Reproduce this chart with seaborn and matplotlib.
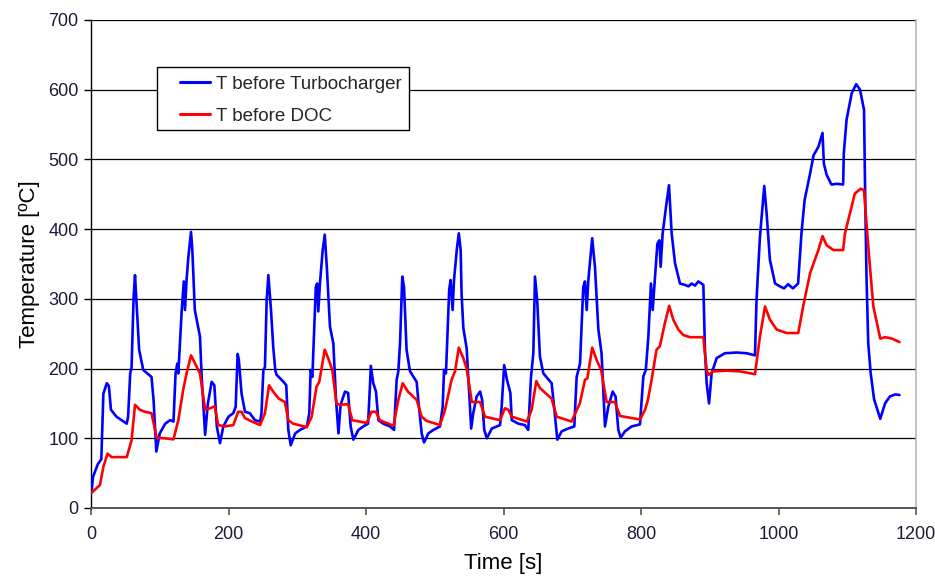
import numpy as np
import pandas as pd
import matplotlib
matplotlib.use("Agg")
import matplotlib.pyplot as plt
from matplotlib.patches import Rectangle
from matplotlib.lines import Line2D
import seaborn as sns

# ---------------- data ----------------
turbo_t = [1, 3, 10, 15, 18, 23, 26, 29, 37, 52, 54, 57, 59, 62, 64, 66, 70, 76, 88, 91,
           95, 100, 108, 115, 120, 123, 125.5, 127, 132, 135, 136.7, 139, 141.6, 145.5, 147.4, 151, 158.5, 161, 166, 170,
           175.5, 179.4, 183, 187.6, 192.5, 200, 207, 210.4, 213.3, 215, 219, 224, 231, 238.5, 246, 248, 250.7, 253, 255.5, 258,
           261.8, 265, 268, 270, 280, 284, 287, 290.5, 297, 304, 314, 317.5, 319.5, 322, 327, 329, 330.6, 333, 337, 340,
           343, 347.6, 352.5, 356.4, 360, 363, 369.5, 374, 377.7, 381.6, 389, 396, 403, 405.8, 407, 410.6, 414.5, 418, 425, 435,
           440.8, 444.6, 447, 449.5, 452.8, 455.3, 459, 464, 473.7, 476, 481, 484.4, 490.7, 498, 507.6, 511.5, 513.5, 516.3, 521, 523,
           526, 528, 532, 535, 537.7, 539, 541.6, 546.4, 553, 556, 561, 566, 569, 572, 575.8, 583, 595, 597.3, 601, 605,
           610, 612, 621.6, 631, 636, 640, 643.4, 645.8, 649, 653, 658, 670, 672.6, 678.3, 684.6, 694, 703, 706.4, 711.3, 716,
           718.5, 721, 723.4, 729, 733, 738, 742.6, 747.6, 752.4, 758.8, 763, 767, 770.4, 776.7, 786.4, 798.5, 803.4, 807, 810.7, 814.5,
           817, 820.4, 823.8, 826.7, 828.6, 831.5, 836.4, 840.7, 844.6, 849.5, 856.7, 864, 869, 873.7, 878.5, 883.4, 890.7, 893, 895.5, 899,
           902.7, 910, 922, 939, 953.6, 965.8, 968, 973, 979.3, 982.7, 987.5, 995, 1002, 1008, 1014, 1021, 1028.5, 1033.4, 1038, 1046,
           1051, 1058, 1064, 1066, 1070, 1077, 1085, 1094, 1095, 1099, 1106.5, 1113, 1118.6, 1124.4, 1126, 1128, 1130.5, 1134, 1139, 1148,
           1155, 1162, 1170, 1176]
turbo_v = [25, 45, 63, 70, 164, 179, 175, 141, 131, 121, 131, 193, 202, 303, 334, 298, 227, 198, 188, 155,
           81, 107, 121, 126, 124, 193, 207, 193, 284, 325, 284, 327, 360, 396, 370, 284, 246, 188, 105, 150,
           181, 176, 117, 93, 117, 131, 136, 145, 221, 213, 164, 138, 136, 126, 124, 136, 198, 202, 298, 334,
           284, 232, 198, 191, 181, 176, 112, 90, 107, 112, 117, 136, 198, 188, 317, 322, 282, 322, 370, 392,
           346, 260, 236, 155, 107, 148, 167, 165, 117, 98, 112, 117, 121, 176, 204, 179, 167, 126, 121, 117,
           112, 184, 196, 236, 332, 317, 227, 196, 181, 155, 107, 94, 107, 112, 117, 145, 198, 193, 313, 327,
           284, 327, 370, 394, 370, 308, 258, 229, 114, 136, 160, 167, 155, 112, 100, 114, 119, 145, 205, 184,
           165, 126, 121, 119, 112, 188, 222, 332, 298, 217, 193, 179, 155, 98, 110, 114, 117, 188, 207, 317,
           325, 284, 327, 387, 346, 256, 222, 117, 145, 167, 160, 112, 101, 110, 117, 120, 189, 198, 246, 322,
           284, 331, 379, 384, 346, 394, 432, 463, 394, 351, 322, 320, 318, 322, 319, 325, 320, 227, 179, 150,
           193, 215, 222, 223, 222, 219, 298, 389, 462, 423, 356, 322, 318, 315, 321, 315, 322, 394, 442, 480,
           506, 518, 538, 494, 478, 464, 465, 464, 509, 557, 595, 608, 600, 571, 452, 332, 237, 194, 156, 128,
           150, 160, 163, 162]

doc_t = [1, 13, 18, 24, 30, 52, 59, 64, 71, 78.5, 88, 95.5, 107.6, 120, 127, 134, 139, 145.5, 151, 158.5,
         166, 173, 180, 185, 195, 207, 214, 219, 224, 234, 246, 253, 259, 265, 273, 282, 287, 294, 314, 321,
         328, 332, 340, 345, 351, 357, 362, 374, 380, 401, 408, 414.5, 420, 440, 447, 453.4, 461, 473.7, 481, 488,
         507.6, 515, 524.5, 529.5, 535, 541.6, 546.4, 554, 566, 573, 595, 602, 607, 612, 634, 641, 647.7, 653, 670, 677.4,
         699, 711, 718.5, 722, 729, 735.6, 742, 750, 762, 769.5, 798.5, 806, 810, 815.3, 822.5, 827.4, 834.7, 841, 847, 854.3,
         861.6, 871.3, 890.7, 895.5, 898, 905, 924.5, 944, 965.8, 973, 980.4, 987.6, 997.3, 1011.8, 1028.7, 1036, 1046, 1058, 1064, 1070,
         1080, 1094, 1096.7, 1104, 1111, 1119.5, 1124.4, 1128, 1133, 1138, 1148, 1155, 1165, 1176]
doc_v = [22, 33, 59, 78, 73, 73, 97, 148, 141, 138, 136, 101, 100, 98.5, 126, 169, 193, 219, 208, 193,
         141, 143, 146, 119, 117, 119, 138, 138, 129, 124, 119, 136, 176, 167, 157, 152, 126, 121, 116, 131,
         174, 181, 227, 215, 198, 150, 148, 149, 126, 122, 138, 138, 126, 118, 155, 179, 167, 155, 131, 125,
         119, 141, 184, 196, 230, 215, 200, 152, 152, 131, 126, 143, 141, 131, 124, 141, 182, 172, 157, 131,
         124, 150, 184, 186, 230, 212, 198, 152, 152, 132, 127, 141, 155, 183, 227, 232, 265, 290, 270, 256,
         248, 245, 245, 198, 191, 196, 197, 196, 192, 246, 289, 270, 256, 251, 251, 290, 337, 370, 390, 377,
         370, 370, 394, 423, 451, 458, 456, 408, 346, 289, 243, 245, 243, 238]

series_names = ["T before Turbocharger", "T before DOC"]
series_colors = ["#0000FF", "#FF0000"]
x_ticks = [0, 200, 400, 600, 800, 1000, 1200]
y_ticks = [0, 100, 200, 300, 400, 500, 600, 700]

df = pd.concat([
    pd.DataFrame({"Time": turbo_t, "Temp": turbo_v, "Series": series_names[0]}),
    pd.DataFrame({"Time": doc_t, "Temp": doc_v, "Series": series_names[1]}),
], ignore_index=True)

# ---------------- plot ----------------
sns.set_theme(style="white")
plt.rcParams["font.family"] = ["Liberation Sans", "DejaVu Sans"]

fig = plt.figure(figsize=(9.35, 5.76), dpi=100)
ax = fig.add_axes([91 / 935, 1 - 508 / 576, 825 / 935, 488 / 576])

sns.lineplot(data=df, x="Time", y="Temp", hue="Series", palette=series_colors,
             hue_order=series_names, estimator=None, sort=False, linewidth=1.9, ax=ax,
             legend=False, zorder=3)

ax.set_xlim(0, 1200)
ax.set_ylim(0, 700)
ax.set_xticks(x_ticks)
ax.set_yticks(y_ticks)
ax.yaxis.grid(True, color="black", linewidth=0.9)
ax.xaxis.grid(False)
ax.set_axisbelow(True)

ax.spines["top"].set_visible(False)
ax.spines["right"].set_color("#b8b8b8")
ax.spines["right"].set_linewidth(1.2)
ax.spines["left"].set_color("black")
ax.spines["left"].set_linewidth(1.0)
ax.spines["bottom"].set_color("#555555")
ax.spines["bottom"].set_linewidth(1.4)

tick_color = "#1c1c3a"
ax.tick_params(axis="both", which="major", direction="out", length=5, labelsize=13,
               labelcolor=tick_color, bottom=True, left=True)
ax.tick_params(axis="y", pad=4, color="black", width=1)
ax.tick_params(axis="x", pad=8, color="#555555", width=1.2)

ax.set_xlabel("Time [s]", fontsize=16, labelpad=7, color="black")
ax.set_ylabel("Temperature [ºC]", fontsize=16, labelpad=6, color="black")

# legend box
ax.add_patch(Rectangle((0.08, 0.774), 0.3055, 0.129, transform=ax.transAxes,
                       facecolor="white", edgecolor="black", linewidth=1.0, zorder=4))
handles = [Line2D([0], [0], color=c, linewidth=2.2) for c in series_colors]
leg = ax.legend(handles, series_names, loc="upper left", bbox_to_anchor=(0.108, 0.886),
                frameon=False, fontsize=13.5, handlelength=1.6, handletextpad=0.3,
                labelspacing=0.8, borderpad=0, borderaxespad=0)
leg.set_zorder(5)

fig.savefig("out.png", dpi=100)
